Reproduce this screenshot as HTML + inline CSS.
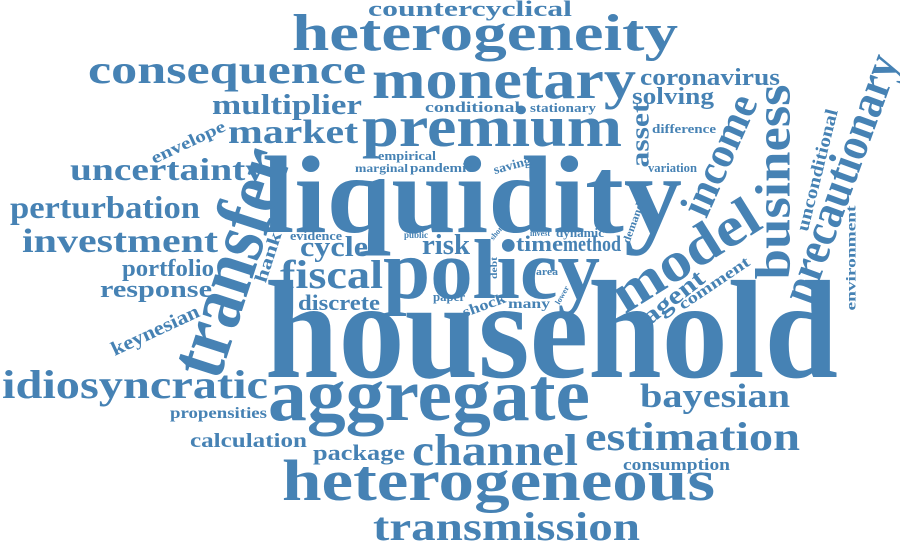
<!DOCTYPE html>
<html><head><meta charset="utf-8"><style>
html,body{margin:0;padding:0;background:#fff;}
svg{display:block;}
text{font-family:"Liberation Serif",serif;font-weight:bold;fill:#4682b4;}
</style></head><body>
<svg id="cloud" width="900" height="548" viewBox="0 0 900 548"></svg>
<script>
// horizontal words: text, left x, right x, baseline y, font size
const hWords = [
["countercyclical",368,572,16,22],["heterogeneity",292,678,50,52],["consequence",88,366,83,40],
["monetary",372,636,98,55],["coronavirus",640,780,85,24],["multiplier",212,362,114,28],
["solving",632,714,104,24],["conditional",425,520,112,15],["stationary",530,596,112,13],
["premium",362,622,146,58],["market",228,358,143,34],["difference",652,716,133,13],
["uncertainty",70,265,180,32],["liquidity",262,682,232,110],["empirical",378,436,160,13],
["marginal",355,408,172,12],["pandemic",410,473,172,13],["variation",648,697,172,13],
["perturbation",10,200,218,32],["investment",22,218,252,34],["evidence",290,342,240,13],
["public",404,428,238,9],["invest",530,550,236,8],["dynamic",556,604,237,13],
["cycle",300,368,256,28],["risk",422,470,254,28],["time",516,563,251,22],["method",563,621,251,22],
["portfolio",122,214,276,24],["fiscal",280,383,288,40],["policy",383,600,298,85],
["area",536,558,275,10],["response",100,212,297,24],["discrete",298,380,310,22],
["paper",433,465,301,13],["many",508,550,308,14],["household",265,838,377,140],
["idiosyncratic",2,268,398,40],["aggregate",268,590,420,75],["bayesian",640,790,407,34],
["propensities",170,267,418,16],["calculation",190,307,447,20],["estimation",585,800,450,40],
["package",313,405,460,22],["channel",412,578,465,44],["consumption",623,730,470,17],
["heterogeneous",282,715,500,58],["transmission",373,640,540,40]
];
// rotated words: text, centre x, centre y, angle, length, font size
const rWords = [
["transfer",230,262,-72,235,80],["envelope",188,142,-25,80,17],["asset",640,135,-90,65,26],
["income",719,155,-66,128,44],["business",773,182,-90,195,50],["precautionary",840,178,-70,260,48],
["unconditional",817,170,-76,125,18],["environment",851,258,-90,105,14],["saving",512,165,-15,38,13],
["short",497,232,-50,18,8],["demand",633,223,-70,42,11],["model",685,255,-32,165,56],
["hank",268,257,-72,52,18],["debt",494,268,-90,22,9],["comment",714,283,-34,82,16],
["agent",673,297,-38,72,25],["shock",484,305,-20,45,15],["lower",562,295,-60,20,8],
["keynesian",155,330,-25,95,20]
];
const svg=document.getElementById('cloud');
const NS='http://www.w3.org/2000/svg';
hWords.forEach(w=>{
  const t=document.createElementNS(NS,'text');
  t.setAttribute('x',w[1]);t.setAttribute('y',w[3]);
  t.setAttribute('font-size',w[4]);
  t.setAttribute('textLength',w[2]-w[1]);
  t.setAttribute('lengthAdjust','spacingAndGlyphs');
  t.textContent=w[0];
  
  
  svg.appendChild(t);
});
rWords.forEach(w=>{
  const t=document.createElementNS(NS,'text');
  t.setAttribute('x',0);t.setAttribute('y',w[5]*0.33);
  t.setAttribute('text-anchor','middle');
  t.setAttribute('font-size',w[5]);
  t.setAttribute('textLength',w[4]);
  t.setAttribute('lengthAdjust','spacingAndGlyphs');
  t.setAttribute('transform','translate('+w[1]+','+w[2]+') rotate('+w[3]+')');
  t.textContent=w[0];
  
  
  svg.appendChild(t);
});
</script>
</body></html>
